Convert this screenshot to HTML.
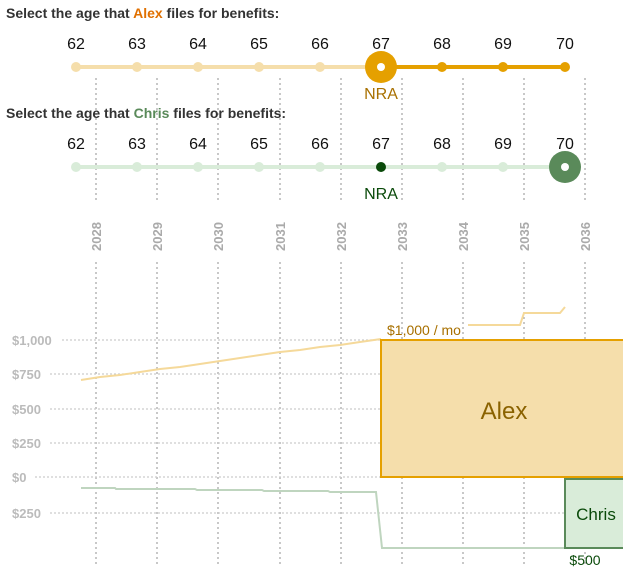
<!DOCTYPE html>
<html><head><style>
body{margin:0;background:#fff;width:623px;height:571px;overflow:hidden;font-family:"Liberation Sans",sans-serif}
</style></head><body>
<svg width="623" height="571" xmlns="http://www.w3.org/2000/svg" font-family="Liberation Sans, sans-serif">
<g stroke="#aaa" stroke-width="1.3" stroke-dasharray="2,3">
<line x1="96" y1="78" x2="96" y2="200"/><line x1="157" y1="78" x2="157" y2="200"/><line x1="218" y1="78" x2="218" y2="200"/><line x1="280" y1="78" x2="280" y2="200"/><line x1="341" y1="78" x2="341" y2="200"/><line x1="402" y1="78" x2="402" y2="200"/><line x1="463" y1="78" x2="463" y2="200"/><line x1="524" y1="78" x2="524" y2="200"/><line x1="585" y1="78" x2="585" y2="200"/>
<line x1="96" y1="262" x2="96" y2="565"/><line x1="157" y1="262" x2="157" y2="565"/><line x1="218" y1="262" x2="218" y2="565"/><line x1="280" y1="262" x2="280" y2="565"/><line x1="341" y1="262" x2="341" y2="565"/><line x1="402" y1="262" x2="402" y2="565"/><line x1="463" y1="262" x2="463" y2="565"/><line x1="524" y1="262" x2="524" y2="565"/><line x1="585" y1="262" x2="585" y2="565"/>
</g>
<g stroke="#ccc" stroke-width="1.3" stroke-dasharray="2,2">
<line x1="62" y1="340" x2="381" y2="340"/><line x1="50" y1="374" x2="381" y2="374"/><line x1="50" y1="409" x2="381" y2="409"/><line x1="50" y1="443" x2="381" y2="443"/><line x1="35" y1="477" x2="623" y2="477"/><line x1="50" y1="513" x2="565" y2="513"/>
</g>
<g font-size="14" font-weight="bold" fill="#333">
<text x="6" y="18">Select the age that <tspan fill="#e07000">Alex</tspan> files for benefits:</text>
<text x="6" y="118">Select the age that <tspan fill="#5a8a5a">Chris</tspan> files for benefits:</text>
</g>
<g font-size="16" fill="#111" text-anchor="middle">
<text x="76" y="49">62</text><text x="137" y="49">63</text><text x="198" y="49">64</text><text x="259" y="49">65</text><text x="320" y="49">66</text><text x="381" y="49">67</text><text x="442" y="49">68</text><text x="503" y="49">69</text><text x="565" y="49">70</text>
<text x="76" y="149">62</text><text x="137" y="149">63</text><text x="198" y="149">64</text><text x="259" y="149">65</text><text x="320" y="149">66</text><text x="381" y="149">67</text><text x="442" y="149">68</text><text x="503" y="149">69</text><text x="565" y="149">70</text>
</g>
<line x1="76" y1="67" x2="381" y2="67" stroke="#f5deab" stroke-width="4"/>
<line x1="381" y1="67" x2="565" y2="67" stroke="#e5a000" stroke-width="4"/>
<g fill="#f5deab"><circle cx="76" cy="67" r="5"/><circle cx="137" cy="67" r="5"/><circle cx="198" cy="67" r="5"/><circle cx="259" cy="67" r="5"/><circle cx="320" cy="67" r="5"/></g>
<g fill="#e5a000"><circle cx="442" cy="67" r="5"/><circle cx="503" cy="67" r="5"/><circle cx="565" cy="67" r="5"/><circle cx="381" cy="67" r="16"/></g>
<circle cx="381" cy="67" r="4" fill="#fff"/>
<text x="381" y="99" font-size="16" fill="#a87000" text-anchor="middle">NRA</text>
<line x1="76" y1="167" x2="565" y2="167" stroke="#d9ecd9" stroke-width="4"/>
<g fill="#d9ecd9"><circle cx="76" cy="167" r="5"/><circle cx="137" cy="167" r="5"/><circle cx="198" cy="167" r="5"/><circle cx="259" cy="167" r="5"/><circle cx="320" cy="167" r="5"/><circle cx="442" cy="167" r="5"/><circle cx="503" cy="167" r="5"/></g>
<circle cx="381" cy="167" r="5" fill="#0a4a0a"/>
<circle cx="565" cy="167" r="16" fill="#5a8a5a"/><circle cx="565" cy="167" r="4" fill="#fff"/>
<text x="381" y="199" font-size="16" fill="#0a4a0a" text-anchor="middle">NRA</text>
<g font-size="13" font-weight="bold" fill="#aaa">
<text transform="translate(101,251) rotate(-90)">2028</text><text transform="translate(162,251) rotate(-90)">2029</text><text transform="translate(223,251) rotate(-90)">2030</text><text transform="translate(285,251) rotate(-90)">2031</text><text transform="translate(346,251) rotate(-90)">2032</text><text transform="translate(407,251) rotate(-90)">2033</text><text transform="translate(468,251) rotate(-90)">2034</text><text transform="translate(529,251) rotate(-90)">2035</text><text transform="translate(590,251) rotate(-90)">2036</text>
</g>
<g font-size="13" font-weight="bold" fill="#bbb">
<text x="12" y="345">$1,000</text><text x="12" y="379">$750</text><text x="12" y="414">$500</text><text x="12" y="448">$250</text><text x="12" y="482">$0</text><text x="12" y="518">$250</text>
</g>
<polyline fill="none" stroke="#f5d99a" stroke-width="2" points="81,380 100,377 120,375 140,372 160,369 180,367 200,364 220,361 240,358 260,355 280,352 300,350 320,347 340,345 360,342 381,339"/>
<polyline fill="none" stroke="#f5d99a" stroke-width="2" points="468,325 520,325 524,313 560,313 565,307"/>
<text x="387" y="335" font-size="14" fill="#a87000">$1,000 / mo</text>
<polyline fill="none" stroke="#bfd5bf" stroke-width="2" points="81,488 115,488 116,489 195,489 197,490 262,490 264,491 328,491 330,492 376,492 382,548 565,548"/>
<rect x="381" y="340" width="250" height="137" fill="#f5deab" stroke="#e5a000" stroke-width="2"/>
<text x="504" y="419" font-size="24" fill="#8a6200" text-anchor="middle">Alex</text>
<rect x="565" y="479" width="70" height="69" fill="#d9ecd9" stroke="#5a8a5a" stroke-width="2"/>
<text x="596" y="520" font-size="17" fill="#0a4a0a" text-anchor="middle">Chris</text>
<text x="585" y="565" font-size="14" fill="#0a4a0a" text-anchor="middle">$500</text>
</svg>
</body></html>
